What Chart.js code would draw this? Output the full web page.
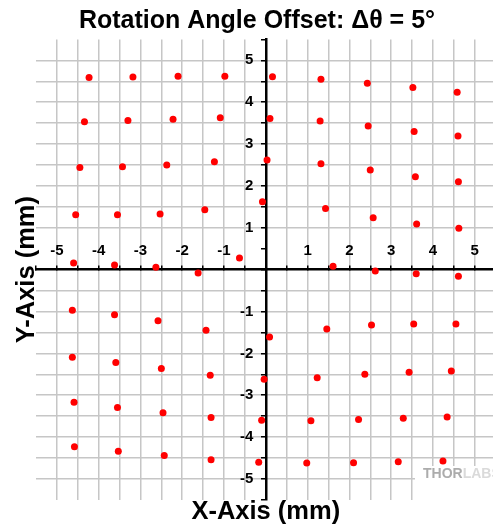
<!DOCTYPE html>
<html>
<head>
<meta charset="utf-8">
<script src="https://cdn.jsdelivr.net/npm/chart.js@4"></script>
<style>
  html, body { margin: 0; padding: 0; background: #fff; overflow: hidden; }
</style>
</head>
<body>
<canvas id="chart" width="500" height="526"></canvas>
<script>
// spot positions (mm), read row by row from top to bottom, left to right
const row1X = [-4.23, -3.18, -2.10, -0.98, 0.16, 1.32, 2.43, 3.52, 4.58];
const row1Y = [4.59, 4.60, 4.62, 4.62, 4.61, 4.55, 4.45, 4.35, 4.24];
const row2X = [-4.34, -3.30, -2.22, -1.09, 0.10, 1.30, 2.45, 3.55, 4.60];
const row2Y = [3.53, 3.56, 3.59, 3.63, 3.61, 3.55, 3.43, 3.30, 3.19];
const row3X = [-4.45, -3.43, -2.37, -1.23, 0.03, 1.32, 2.50, 3.58, 4.61];
const row3Y = [2.44, 2.46, 2.50, 2.58, 2.62, 2.53, 2.38, 2.22, 2.10];
const row4X = [-4.55, -3.55, -2.53, -1.46, -0.08, 1.43, 2.57, 3.61, 4.62];
const row4Y = [1.31, 1.31, 1.33, 1.43, 1.62, 1.46, 1.24, 1.09, 0.99];
const row5X = [-4.60, -3.62, -2.63, -1.62, -0.63, 1.61, 2.62, 3.60, 4.61];
const row5Y = [0.16, 0.11, 0.06, -0.08, 0.28, 0.08, -0.03, -0.10, -0.16];
const row6X = [-4.63, -3.62, -2.58, -1.43, 0.09, 1.46, 2.53, 3.54, 4.55];
const row6Y = [-0.97, -1.08, -1.22, -1.45, -1.61, -1.42, -1.32, -1.30, -1.30];
const row7X = [-4.63, -3.59, -2.50, -1.33, -0.04, 1.23, 2.37, 3.43, 4.44];
const row7Y = [-2.09, -2.22, -2.36, -2.52, -2.62, -2.58, -2.50, -2.45, -2.42];
const row8X = [-4.59, -3.55, -2.46, -1.31, -0.10, 1.08, 2.22, 3.29, 4.34];
const row8Y = [-3.17, -3.29, -3.42, -3.53, -3.60, -3.61, -3.58, -3.55, -3.52];
const row9X = [-4.58, -3.53, -2.43, -1.31, -0.17, 0.98, 2.10, 3.17, 4.24];
const row9Y = [-4.23, -4.34, -4.44, -4.54, -4.60, -4.62, -4.61, -4.59, -4.57];

const axisMin = -5.5;
const axisMax = 5.5;
const axisStep = 0.5;

const titleText = "Rotation Angle Offset: \u0394\u03B8 = 5\u00B0";
const xTitle = "X-Axis (mm)";
const yTitle = "Y-Axis (mm)";

const rowsX = [row1X, row2X, row3X, row4X, row5X, row6X, row7X, row8X, row9X];
const rowsY = [row1Y, row2Y, row3Y, row4Y, row5Y, row6Y, row7Y, row8Y, row9Y];
const spots = [];
rowsX.forEach((xs, r) => xs.forEach((x, i) => spots.push({ x, y: rowsY[r][i] })));

const FONT = "'Liberation Sans', Arial, sans-serif";
const GRID = "#c6c6c6";
const NONE = "rgba(0,0,0,0)";

function intLabel(v) {
  return Number.isInteger(v) && v !== 0 ? String(v) : "";
}

// title, axis titles and the logo watermark
const decorations = {
  id: "decorations",
  beforeDatasetsDraw(chart) {
    const ctx = chart.ctx;
    ctx.save();
    ctx.fillStyle = "#fff";
    ctx.fillRect(415, 466, 90, 40);
    ctx.font = "bold 14px " + FONT;
    ctx.textBaseline = "alphabetic";
    ctx.textAlign = "left";
    ctx.fillStyle = "#acacac";
    ctx.fillText("THOR", 423, 478);
    const w = ctx.measureText("THOR").width;
    ctx.fillStyle = "#dadada";
    ctx.fillText("LABS", 423 + w, 478);
    ctx.restore();
  },
  afterDraw(chart) {
    const { ctx, chartArea } = chart;
    ctx.save();
    ctx.fillStyle = "#000";
    ctx.textAlign = "center";
    ctx.textBaseline = "alphabetic";
    ctx.font = "bold 25px " + FONT;
    ctx.fillText(titleText, 257, 28);
    ctx.font = "bold 25.5px " + FONT;
    ctx.fillText(xTitle, (chartArea.left + chartArea.right) / 2, 519);
    ctx.translate(34, (chartArea.top + chartArea.bottom) / 2);
    ctx.rotate(-Math.PI / 2);
    ctx.fillText(yTitle, 0, 0);
    ctx.restore();
  },
};

new Chart(document.getElementById("chart"), {
  type: "scatter",
  data: {
    datasets: [{
      data: spots,
      backgroundColor: "#ff0000",
      borderWidth: 0,
      pointRadius: 3.5,
    }],
  },
  options: {
    responsive: false,
    animation: false,
    layout: { padding: { left: 36, right: 4.4, top: 39.4, bottom: 26.1 } },
    plugins: {
      legend: { display: false },
      tooltip: { enabled: false },
    },
    scales: {
      x: {
        type: "linear",
        min: axisMin,
        max: axisMax,
        position: { y: 0 },
        ticks: {
          stepSize: axisStep,
          autoSkip: false,
          maxRotation: 0,
          padding: -23,
          color: "#000",
          font: { family: FONT, size: 15, weight: "bold" },
          callback: (v) => intLabel(v),
        },
        grid: {
          color: (c) => (Math.abs(c.tick.value) === 5.5 || c.tick.value === 0 ? NONE : GRID),
          lineWidth: 1.5,
          tickLength: -5,
          tickColor: "#000",
          tickWidth: 1.5,
        },
        border: { color: "#000", width: 2.5 },
      },
      y: {
        type: "linear",
        min: axisMin,
        max: axisMax,
        position: { x: 0 },
        ticks: {
          stepSize: axisStep,
          autoSkip: false,
          color: "#000",
          font: { family: FONT, size: 15, weight: "bold" },
          callback: (v) => (intLabel(v) ? intLabel(v) + "   " : ""),
        },
        grid: {
          color: (c) => {
            const v = c.tick.value;
            return Math.abs(v) === 5.5 || v === 0 || v === 0.5 ? NONE : GRID;
          },
          lineWidth: 1.5,
          tickLength: 4,
          tickColor: "#000",
          tickWidth: 1.5,
        },
        border: { color: "#000", width: 2.5 },
      },
    },
  },
  plugins: [decorations],
});
</script>
</body>
</html>
